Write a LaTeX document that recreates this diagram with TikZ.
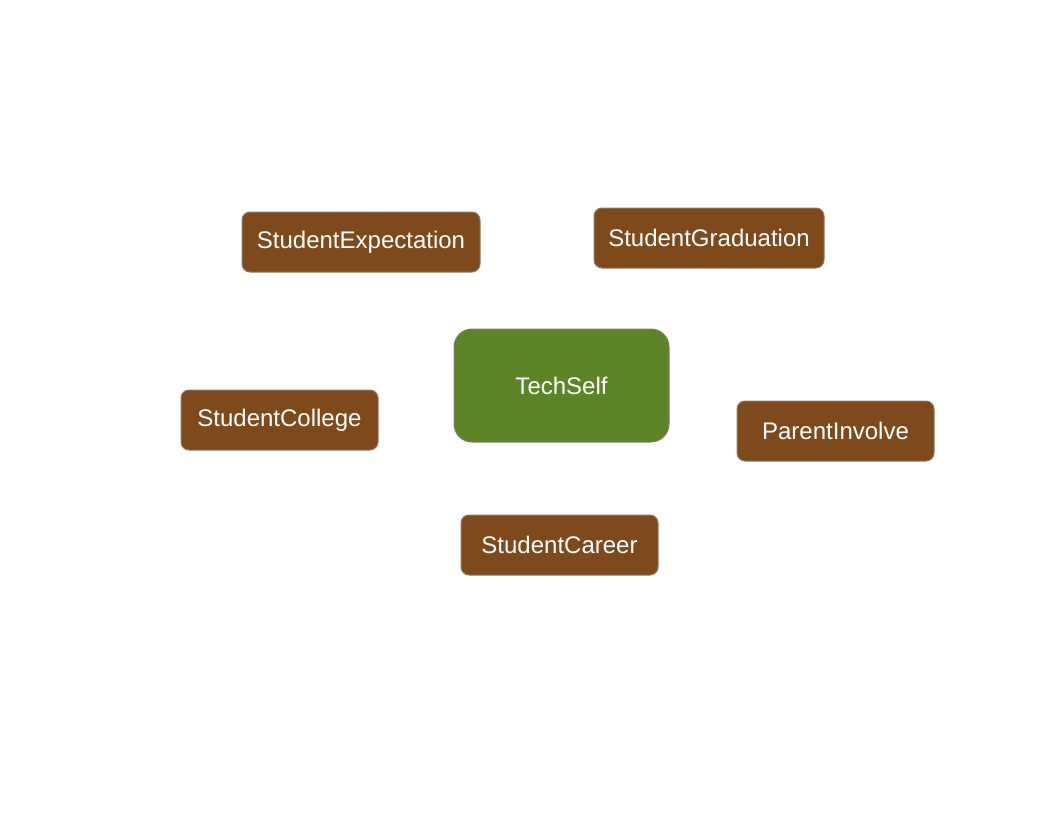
\documentclass[tikz,border=0pt]{standalone}
\usepackage{fontspec}
\setmainfont{Liberation Sans}
\usepackage{xcolor}
\usetikzlibrary{positioning}
\definecolor{factorbrown}{HTML}{7E4A1B}
\definecolor{factorgreen}{HTML}{5C8527}
\definecolor{edgegray}{HTML}{8C7A66}

\begin{document}
\begin{tikzpicture}[x=1pt, y=-1pt,
      box/.style={draw=edgegray, line width=1pt, rounded corners=8pt, text=white,
        inner sep=0pt, font=\fontsize{24}{28}\selectfont},
      outcome/.style={box, fill=factorbrown, minimum height=60pt},
      core/.style={box, fill=factorgreen, rounded corners=18pt, minimum width=215pt, minimum height=113pt}]
      % Page frame
      \useasboundingbox (0,0) rectangle (1056,816);
      % Central factor
      \node[core] (techself) at (561.5,385.5) {TechSelf};
      % Surrounding factors
      \node[outcome, minimum width=238pt] (expect) at (361,242) {StudentExpectation};
      \node[outcome, minimum width=230pt] (grad) at (709,238) {StudentGraduation};
      \node[outcome, minimum width=197pt] (college) at (279.5,420) {StudentCollege};
      \node[outcome, minimum width=197pt] (parent) at (835.5,431) {ParentInvolve};
      \node[outcome, minimum width=197pt] (career) at (559.5,545) {StudentCareer};
\end{tikzpicture}
\end{document}
